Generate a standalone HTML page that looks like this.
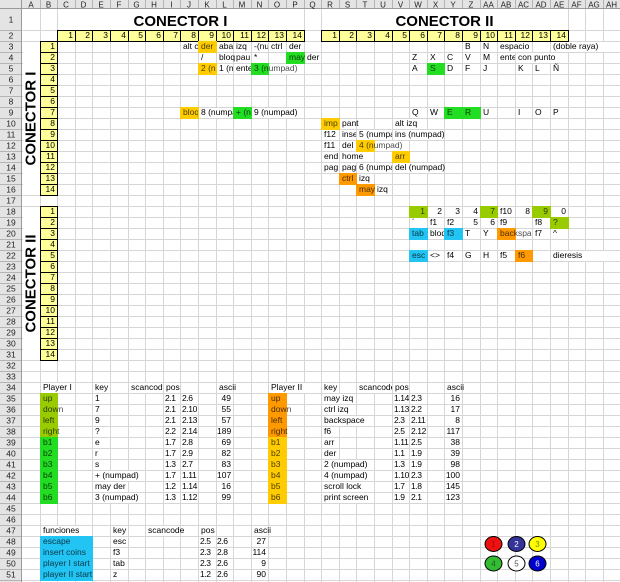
<!DOCTYPE html>
<html><head><meta charset="utf-8"><style>
*{margin:0;padding:0}
body{background:#fff;width:620px;height:582px;overflow:hidden}
#w{position:relative;width:620px;height:582px;overflow:hidden;font-family:"Liberation Sans",Arial,sans-serif;font-size:8.5px;color:#000}
.t{position:absolute;height:10px;line-height:9px;white-space:nowrap;padding-left:2px;box-sizing:border-box}
.p{padding-left:1px;letter-spacing:-.4px}
.k{overflow:hidden}
.w{background:#fff}
.r{text-align:right;padding:0 2px 0 0}
.f{position:absolute;height:12px}
.y{position:absolute;height:12px;background:#ffff99;border:1px solid #000;box-sizing:border-box;text-align:right;padding-right:2px;line-height:9px;white-space:nowrap}
.g{background:#ffcc00}.o{background:#ff9900}.n{background:#22dd22}.l{background:#99cc00}.b{background:#22c4f4}
.d{color:rgba(0,0,0,.72)}
.ttl{position:absolute;text-align:center;font-weight:bold;font-size:15px;line-height:15px;white-space:nowrap}
</style></head><body><div id="w">
<svg width="620" height="582" style="position:absolute;left:0;top:0" font-family="Liberation Sans, Arial, sans-serif">
<defs>
<pattern id="hp" x="0" y="30" width="620" height="11" patternUnits="userSpaceOnUse"><rect width="620" height="1" fill="#d6d6d6"/></pattern>
<pattern id="hh" x="0" y="30" width="22" height="11" patternUnits="userSpaceOnUse"><rect width="22" height="1" fill="#b4b4b4"/></pattern>
</defs>
<rect x="0" y="0" width="620" height="9" fill="#e4e4e4"/>
<rect x="0" y="0" width="22" height="582" fill="#e4e4e4"/>
<rect x="22" y="30" width="598" height="552" fill="url(#hp)"/>
<rect x="0" y="30" width="21" height="552" fill="url(#hh)"/>
<path d="M40.5 9V582M57.5 9V582M75.5 9V582M92.5 9V582M110.5 9V582M128.5 9V582M145.5 9V582M163.5 9V582M180.5 9V582M198.5 9V582M216.5 9V582M233.5 9V582M251.5 9V582M268.5 9V582M286.5 9V582M304.5 9V582M321.5 9V582M339.5 9V582M356.5 9V582M374.5 9V582M392.5 9V582M409.5 9V582M427.5 9V582M444.5 9V582M462.5 9V582M480.5 9V582M497.5 9V582M515.5 9V582M532.5 9V582M550.5 9V582M568.5 9V582M585.5 9V582M603.5 9V582" stroke="#d6d6d6" stroke-width="1"/>
<path d="M40.5 0V9M57.5 0V9M75.5 0V9M92.5 0V9M110.5 0V9M128.5 0V9M145.5 0V9M163.5 0V9M180.5 0V9M198.5 0V9M216.5 0V9M233.5 0V9M251.5 0V9M268.5 0V9M286.5 0V9M304.5 0V9M321.5 0V9M339.5 0V9M356.5 0V9M374.5 0V9M392.5 0V9M409.5 0V9M427.5 0V9M444.5 0V9M462.5 0V9M480.5 0V9M497.5 0V9M515.5 0V9M532.5 0V9M550.5 0V9M568.5 0V9M585.5 0V9M603.5 0V9" stroke="#b4b4b4" stroke-width="1"/>
<path d="M0 8.5H620M21.5 0V582" stroke="#9a9a9a" stroke-width="1"/>
<rect x="58" y="9" width="245" height="21" fill="#fff"/>
<rect x="322" y="9" width="245" height="21" fill="#fff"/>
<rect x="23" y="42" width="17" height="153" fill="#fff"/>
<rect x="23" y="207" width="17" height="153" fill="#fff"/>
<g font-size="8" fill="#222" text-anchor="middle">
<text x="31" y="7.5">A</text><text x="48.5" y="7.5">B</text><text x="66" y="7.5">C</text><text x="83.5" y="7.5">D</text><text x="101" y="7.5">E</text><text x="119" y="7.5">F</text><text x="136.5" y="7.5">G</text><text x="154" y="7.5">H</text><text x="171.5" y="7.5">I</text><text x="189" y="7.5">J</text><text x="207" y="7.5">K</text><text x="224.5" y="7.5">L</text><text x="242" y="7.5">M</text><text x="259.5" y="7.5">N</text><text x="277" y="7.5">O</text><text x="295" y="7.5">P</text><text x="312.5" y="7.5">Q</text><text x="330" y="7.5">R</text><text x="347.5" y="7.5">S</text><text x="365" y="7.5">T</text><text x="383" y="7.5">U</text><text x="400.5" y="7.5">V</text><text x="418" y="7.5">W</text><text x="435.5" y="7.5">X</text><text x="453" y="7.5">Y</text><text x="471" y="7.5">Z</text><text x="488.5" y="7.5">AA</text><text x="506" y="7.5">AB</text><text x="523.5" y="7.5">AC</text><text x="541" y="7.5">AD</text><text x="559" y="7.5">AE</text><text x="576.5" y="7.5">AF</text><text x="594" y="7.5">AG</text><text x="611.5" y="7.5">AH</text>
</g>
<g font-size="8.5" fill="#222" text-anchor="middle">
<text x="11" y="22.5">1</text><text x="11" y="38.5">2</text><text x="11" y="49.5">3</text><text x="11" y="60.5">4</text><text x="11" y="71.5">5</text><text x="11" y="82.5">6</text><text x="11" y="93.5">7</text><text x="11" y="104.5">8</text><text x="11" y="115.5">9</text><text x="11" y="126.5">10</text><text x="11" y="137.5">11</text><text x="11" y="148.5">12</text><text x="11" y="159.5">13</text><text x="11" y="170.5">14</text><text x="11" y="181.5">15</text><text x="11" y="192.5">16</text><text x="11" y="203.5">17</text><text x="11" y="214.5">18</text><text x="11" y="225.5">19</text><text x="11" y="236.5">20</text><text x="11" y="247.5">21</text><text x="11" y="258.5">22</text><text x="11" y="269.5">23</text><text x="11" y="280.5">24</text><text x="11" y="291.5">25</text><text x="11" y="302.5">26</text><text x="11" y="313.5">27</text><text x="11" y="324.5">28</text><text x="11" y="335.5">29</text><text x="11" y="346.5">30</text><text x="11" y="357.5">31</text><text x="11" y="368.5">32</text><text x="11" y="379.5">33</text><text x="11" y="390.5">34</text><text x="11" y="401.5">35</text><text x="11" y="412.5">36</text><text x="11" y="423.5">37</text><text x="11" y="434.5">38</text><text x="11" y="445.5">39</text><text x="11" y="456.5">40</text><text x="11" y="467.5">41</text><text x="11" y="478.5">42</text><text x="11" y="489.5">43</text><text x="11" y="500.5">44</text><text x="11" y="511.5">45</text><text x="11" y="522.5">46</text><text x="11" y="533.5">47</text><text x="11" y="544.5">48</text><text x="11" y="555.5">49</text><text x="11" y="566.5">50</text><text x="11" y="577.5">51</text>
</g>
<g stroke="#000" stroke-width="1">
<ellipse cx="493.5" cy="544" rx="8.5" ry="7.5" fill="#ee1111"/>
<ellipse cx="516.5" cy="544" rx="8.5" ry="7.5" fill="#333399"/>
<ellipse cx="537.5" cy="544" rx="8.5" ry="7.5" fill="#ffff00"/>
<ellipse cx="493.5" cy="563.5" rx="8.5" ry="7.5" fill="#33bb33"/>
<ellipse cx="516.5" cy="563.5" rx="8.5" ry="7.5" fill="#ffffff"/>
<ellipse cx="537.5" cy="563.5" rx="8.5" ry="7.5" fill="#0000cc"/>
</g>
<g font-size="8" text-anchor="middle">
<text x="493.5" y="547" fill="#b00000">1</text>
<text x="516.5" y="547" fill="#ffffff">2</text>
<text x="537.5" y="547" fill="#888800">3</text>
<text x="493.5" y="566.5" fill="#1a661a">4</text>
<text x="516.5" y="566.5" fill="#555555">5</text>
<text x="537.5" y="566.5" fill="#ffffff">6</text>
</g>
</svg>

<div class="ttl" style="left:57px;top:14px;width:247px">CONECTOR I</div>
<div class="ttl" style="left:321px;top:14px;width:247px">CONECTOR II</div>
<div class="ttl" style="left:-69.5px;top:110.5px;width:200px;height:15px;transform:rotate(-90deg)">CONECTOR I</div>
<div class="ttl" style="left:-69.5px;top:275.5px;width:200px;height:15px;transform:rotate(-90deg)">CONECTOR II</div>

<div class="y" style="left:57px;top:30px;width:19px">1</div>
<div class="y" style="left:75px;top:30px;width:18px">2</div>
<div class="y" style="left:92px;top:30px;width:19px">3</div>
<div class="y" style="left:110px;top:30px;width:19px">4</div>
<div class="y" style="left:128px;top:30px;width:18px">5</div>
<div class="y" style="left:145px;top:30px;width:19px">6</div>
<div class="y" style="left:163px;top:30px;width:18px">7</div>
<div class="y" style="left:180px;top:30px;width:19px">8</div>
<div class="y" style="left:198px;top:30px;width:19px">9</div>
<div class="y" style="left:216px;top:30px;width:18px">10</div>
<div class="y" style="left:233px;top:30px;width:19px">11</div>
<div class="y" style="left:251px;top:30px;width:18px">12</div>
<div class="y" style="left:268px;top:30px;width:19px">13</div>
<div class="y" style="left:286px;top:30px;width:19px">14</div>
<div class="y" style="left:321px;top:30px;width:19px">1</div>
<div class="y" style="left:339px;top:30px;width:18px">2</div>
<div class="y" style="left:356px;top:30px;width:19px">3</div>
<div class="y" style="left:374px;top:30px;width:19px">4</div>
<div class="y" style="left:392px;top:30px;width:18px">5</div>
<div class="y" style="left:409px;top:30px;width:19px">6</div>
<div class="y" style="left:427px;top:30px;width:18px">7</div>
<div class="y" style="left:444px;top:30px;width:19px">8</div>
<div class="y" style="left:462px;top:30px;width:19px">9</div>
<div class="y" style="left:480px;top:30px;width:18px">10</div>
<div class="y" style="left:497px;top:30px;width:19px">11</div>
<div class="y" style="left:515px;top:30px;width:18px">12</div>
<div class="y" style="left:532px;top:30px;width:19px">13</div>
<div class="y" style="left:550px;top:30px;width:19px">14</div>

<div class="y" style="left:40px;top:41px;width:18px">1</div>
<div class="y" style="left:40px;top:52px;width:18px">2</div>
<div class="y" style="left:40px;top:63px;width:18px">3</div>
<div class="y" style="left:40px;top:74px;width:18px">4</div>
<div class="y" style="left:40px;top:85px;width:18px">5</div>
<div class="y" style="left:40px;top:96px;width:18px">6</div>
<div class="y" style="left:40px;top:107px;width:18px">7</div>
<div class="y" style="left:40px;top:118px;width:18px">8</div>
<div class="y" style="left:40px;top:129px;width:18px">9</div>
<div class="y" style="left:40px;top:140px;width:18px">10</div>
<div class="y" style="left:40px;top:151px;width:18px">11</div>
<div class="y" style="left:40px;top:162px;width:18px">12</div>
<div class="y" style="left:40px;top:173px;width:18px">13</div>
<div class="y" style="left:40px;top:184px;width:18px">14</div>
<div class="y" style="left:40px;top:206px;width:18px">1</div>
<div class="y" style="left:40px;top:217px;width:18px">2</div>
<div class="y" style="left:40px;top:228px;width:18px">3</div>
<div class="y" style="left:40px;top:239px;width:18px">4</div>
<div class="y" style="left:40px;top:250px;width:18px">5</div>
<div class="y" style="left:40px;top:261px;width:18px">6</div>
<div class="y" style="left:40px;top:272px;width:18px">7</div>
<div class="y" style="left:40px;top:283px;width:18px">8</div>
<div class="y" style="left:40px;top:294px;width:18px">9</div>
<div class="y" style="left:40px;top:305px;width:18px">10</div>
<div class="y" style="left:40px;top:316px;width:18px">11</div>
<div class="y" style="left:40px;top:327px;width:18px">12</div>
<div class="y" style="left:40px;top:338px;width:18px">13</div>
<div class="y" style="left:40px;top:349px;width:18px">14</div>

<div class="f g" style="left:198px;top:41px;width:19px"></div>
<div class="f n" style="left:286px;top:52px;width:19px"></div>
<div class="f g" style="left:198px;top:63px;width:19px"></div>
<div class="f n" style="left:251px;top:63px;width:18px"></div>
<div class="t w" style="left:269px;top:64px;width:35px"></div>
<div class="f g" style="left:180px;top:107px;width:19px"></div>
<div class="f n" style="left:233px;top:107px;width:19px"></div>
<div class="f g" style="left:321px;top:118px;width:19px"></div>
<div class="f g" style="left:356px;top:140px;width:19px"></div>
<div class="t w" style="left:375px;top:141px;width:33px"></div>
<div class="f g" style="left:392px;top:151px;width:18px"></div>
<div class="f o" style="left:339px;top:173px;width:18px"></div>
<div class="f o" style="left:356px;top:184px;width:19px"></div>
<div class="f n" style="left:427px;top:63px;width:18px"></div>
<div class="f n" style="left:444px;top:107px;width:37px"></div>
<div class="f l" style="left:409px;top:206px;width:19px"></div>
<div class="f l" style="left:480px;top:206px;width:18px"></div>
<div class="f l" style="left:532px;top:206px;width:19px"></div>
<div class="f l" style="left:550px;top:217px;width:19px"></div>
<div class="f b" style="left:409px;top:228px;width:19px"></div>
<div class="f b" style="left:444px;top:228px;width:19px"></div>
<div class="f o" style="left:497px;top:228px;width:19px"></div>
<div class="f b" style="left:409px;top:250px;width:19px"></div>
<div class="f o" style="left:515px;top:250px;width:18px"></div>

<div class="t k" style="left:181px;top:42px;width:17px">alt c</div>
<div class="t d" style="left:199px;top:42px">der</div>
<div class="t" style="left:217px;top:42px">aba</div>
<div class="t" style="left:234px;top:42px">izq</div>
<div class="t k" style="left:252px;top:42px;width:16px">-(num</div>
<div class="t" style="left:269px;top:42px">ctrl</div>
<div class="t" style="left:287px;top:42px">der</div>

<div class="t" style="left:199px;top:53px">/</div>
<div class="t" style="left:217px;top:53px">bloq</div>
<div class="t" style="left:234px;top:53px">pau</div>
<div class="t" style="left:252px;top:53px">*</div>
<div class="t d" style="left:287px;top:53px">may</div>
<div class="t" style="left:305px;top:53px">der</div>

<div class="t k d" style="left:199px;top:64px;width:17px">2 (numpad)</div>
<div class="t k" style="left:217px;top:64px;width:16px">1 (numpad)</div>
<div class="t k" style="left:234px;top:64px;width:17px">enter</div>
<div class="t d" style="left:252px;top:64px">3 (numpad)</div>

<div class="t k d" style="left:181px;top:108px;width:17px">bloq num</div>
<div class="t k w" style="left:199px;top:108px;width:34px">8 (numpad)</div>
<div class="t k d" style="left:234px;top:108px;width:17px">+ (numpad)</div>
<div class="t w" style="left:252px;top:108px;width:52px">9 (numpad)</div>

<div class="t d" style="left:322px;top:119px">imp</div>
<div class="t" style="left:340px;top:119px">pant</div>
<div class="t w" style="left:393px;top:119px;width:34px">alt izq</div>

<div class="t" style="left:322px;top:130px">f12</div>
<div class="t k" style="left:340px;top:130px;width:16px">insert</div>
<div class="t k w" style="left:357px;top:130px;width:35px">5 (numpad)</div>
<div class="t w" style="left:393px;top:130px;width:51px">ins (numpad)</div>

<div class="t" style="left:322px;top:141px">f11</div>
<div class="t" style="left:340px;top:141px">del</div>
<div class="t d" style="left:357px;top:141px">4 (numpad)</div>

<div class="t" style="left:322px;top:152px">end</div>
<div class="t w" style="left:340px;top:152px;width:34px">home</div>
<div class="t d" style="left:393px;top:152px">arr</div>

<div class="t" style="left:322px;top:163px">pag</div>
<div class="t k" style="left:340px;top:163px;width:16px">pag ab</div>
<div class="t k w" style="left:357px;top:163px;width:35px">6 (numpad)</div>
<div class="t w" style="left:393px;top:163px;width:51px">del (numpad)</div>

<div class="t d" style="left:340px;top:174px">ctrl</div>
<div class="t" style="left:357px;top:174px">izq</div>
<div class="t d" style="left:357px;top:185px">may</div>
<div class="t" style="left:375px;top:185px">izq</div>

<div class="t" style="left:463px;top:42px">B</div>
<div class="t" style="left:481px;top:42px">N</div>
<div class="t w" style="left:498px;top:42px;width:34px">espacio</div>
<div class="t w" style="left:551px;top:42px;width:69px">(doble raya)</div>

<div class="t" style="left:410px;top:53px">Z</div>
<div class="t" style="left:428px;top:53px">X</div>
<div class="t" style="left:445px;top:53px">C</div>
<div class="t" style="left:463px;top:53px">V</div>
<div class="t" style="left:481px;top:53px">M</div>
<div class="t k" style="left:498px;top:53px;width:17px">enter</div>
<div class="t w" style="left:516px;top:53px;width:52px">con punto</div>

<div class="t" style="left:410px;top:64px">A</div>
<div class="t d" style="left:428px;top:64px">S</div>
<div class="t" style="left:445px;top:64px">D</div>
<div class="t" style="left:463px;top:64px">F</div>
<div class="t" style="left:481px;top:64px">J</div>
<div class="t" style="left:516px;top:64px">K</div>
<div class="t" style="left:533px;top:64px">L</div>
<div class="t" style="left:551px;top:64px">Ñ</div>

<div class="t" style="left:410px;top:108px">Q</div>
<div class="t" style="left:428px;top:108px">W</div>
<div class="t d" style="left:445px;top:108px">E</div>
<div class="t d" style="left:463px;top:108px">R</div>
<div class="t" style="left:481px;top:108px">U</div>
<div class="t" style="left:516px;top:108px">I</div>
<div class="t" style="left:533px;top:108px">O</div>
<div class="t" style="left:551px;top:108px">P</div>

<div class="t r d" style="left:410px;top:207px;width:17px">1</div>
<div class="t r" style="left:428px;top:207px;width:16px">2</div>
<div class="t r" style="left:445px;top:207px;width:17px">3</div>
<div class="t r" style="left:463px;top:207px;width:17px">4</div>
<div class="t r d" style="left:481px;top:207px;width:16px">7</div>
<div class="t" style="left:498px;top:207px">f10</div>
<div class="t r" style="left:516px;top:207px;width:16px">8</div>
<div class="t r d" style="left:533px;top:207px;width:17px">9</div>
<div class="t r" style="left:551px;top:207px;width:17px">0</div>

<div class="t" style="left:410px;top:218px">´</div>
<div class="t" style="left:428px;top:218px">f1</div>
<div class="t" style="left:445px;top:218px">f2</div>
<div class="t r" style="left:463px;top:218px;width:17px">5</div>
<div class="t r" style="left:481px;top:218px;width:16px">6</div>
<div class="t" style="left:498px;top:218px">f9</div>
<div class="t" style="left:533px;top:218px">f8</div>
<div class="t d" style="left:551px;top:218px">?</div>

<div class="t d" style="left:410px;top:229px">tab</div>
<div class="t k" style="left:428px;top:229px;width:16px">bloq</div>
<div class="t d" style="left:445px;top:229px">f3</div>
<div class="t" style="left:463px;top:229px">T</div>
<div class="t" style="left:481px;top:229px">Y</div>
<div class="t k d" style="left:498px;top:229px;width:34px">backspace</div>
<div class="t" style="left:533px;top:229px">f7</div>
<div class="t" style="left:551px;top:229px">^</div>

<div class="t d" style="left:410px;top:251px">esc</div>
<div class="t" style="left:428px;top:251px">&lt;&gt;</div>
<div class="t" style="left:445px;top:251px">f4</div>
<div class="t" style="left:463px;top:251px">G</div>
<div class="t" style="left:481px;top:251px">H</div>
<div class="t" style="left:498px;top:251px">f5</div>
<div class="t d" style="left:516px;top:251px">f6</div>
<div class="t w" style="left:551px;top:251px;width:69px">dieresis</div>

<div class="t w" style="left:41px;top:383px;width:34px">Player I</div>
<div class="t" style="left:93px;top:383px">key</div>
<div class="t k w" style="left:129px;top:383px;width:34px">scancode</div>
<div class="t" style="left:164px;top:383px">pos</div>
<div class="t" style="left:217px;top:383px">ascii</div>

<div class="f l" style="left:40px;top:393px;width:18px;height:45px"></div>
<div class="f n" style="left:40px;top:437px;width:18px;height:67px"></div>

<div class="t d" style="left:41px;top:394px">up</div>
<div class="t d" style="left:41px;top:405px">down</div>
<div class="t d" style="left:41px;top:416px">left</div>
<div class="t d" style="left:41px;top:427px">right</div>
<div class="t d" style="left:41px;top:438px">b1</div>
<div class="t d" style="left:41px;top:449px">b2</div>
<div class="t d" style="left:41px;top:460px">b3</div>
<div class="t d" style="left:41px;top:471px">b4</div>
<div class="t d" style="left:41px;top:482px">b5</div>
<div class="t d" style="left:41px;top:493px">b6</div>

<div class="t" style="left:93px;top:394px">1</div>
<div class="t" style="left:93px;top:405px">7</div>
<div class="t" style="left:93px;top:416px">9</div>
<div class="t" style="left:93px;top:427px">?</div>
<div class="t" style="left:93px;top:438px">e</div>
<div class="t" style="left:93px;top:449px">r</div>
<div class="t" style="left:93px;top:460px">s</div>
<div class="t w" style="left:93px;top:471px;width:52px">+ (numpad)</div>
<div class="t w" style="left:93px;top:482px;width:35px">may der</div>
<div class="t w" style="left:93px;top:493px;width:52px">3 (numpad)</div>

<div class="t p" style="left:164px;top:394px">2.1</div><div class="t p" style="left:181px;top:394px">2.6</div>
<div class="t p" style="left:164px;top:405px">2.1</div><div class="t p" style="left:181px;top:405px">2.10</div>
<div class="t p" style="left:164px;top:416px">2.1</div><div class="t p" style="left:181px;top:416px">2.13</div>
<div class="t p" style="left:164px;top:427px">2.2</div><div class="t p" style="left:181px;top:427px">2.14</div>
<div class="t p" style="left:164px;top:438px">1.7</div><div class="t p" style="left:181px;top:438px">2.8</div>
<div class="t p" style="left:164px;top:449px">1.7</div><div class="t p" style="left:181px;top:449px">2.9</div>
<div class="t p" style="left:164px;top:460px">1.3</div><div class="t p" style="left:181px;top:460px">2.7</div>
<div class="t p" style="left:164px;top:471px">1.7</div><div class="t p" style="left:181px;top:471px">1.11</div>
<div class="t p" style="left:164px;top:482px">1.2</div><div class="t p" style="left:181px;top:482px">1.14</div>
<div class="t p" style="left:164px;top:493px">1.3</div><div class="t p" style="left:181px;top:493px">1.12</div>

<div class="t r" style="left:217px;top:394px;width:16px">49</div>
<div class="t r" style="left:217px;top:405px;width:16px">55</div>
<div class="t r" style="left:217px;top:416px;width:16px">57</div>
<div class="t r" style="left:217px;top:427px;width:16px">189</div>
<div class="t r" style="left:217px;top:438px;width:16px">69</div>
<div class="t r" style="left:217px;top:449px;width:16px">82</div>
<div class="t r" style="left:217px;top:460px;width:16px">83</div>
<div class="t r" style="left:217px;top:471px;width:16px">107</div>
<div class="t r" style="left:217px;top:482px;width:16px">16</div>
<div class="t r" style="left:217px;top:493px;width:16px">99</div>

<div class="t w" style="left:269px;top:383px;width:52px">Player II</div>
<div class="t" style="left:322px;top:383px">key</div>
<div class="t k w" style="left:357px;top:383px;width:35px">scancode</div>
<div class="t" style="left:393px;top:383px">pos</div>
<div class="t" style="left:445px;top:383px">ascii</div>

<div class="f o" style="left:268px;top:393px;width:19px;height:45px"></div>
<div class="f g" style="left:268px;top:437px;width:19px;height:67px"></div>

<div class="t d" style="left:269px;top:394px">up</div>
<div class="t d" style="left:269px;top:405px">down</div>
<div class="t d" style="left:269px;top:416px">left</div>
<div class="t d" style="left:269px;top:427px">right</div>
<div class="t d" style="left:269px;top:438px">b1</div>
<div class="t d" style="left:269px;top:449px">b2</div>
<div class="t d" style="left:269px;top:460px">b3</div>
<div class="t d" style="left:269px;top:471px">b4</div>
<div class="t d" style="left:269px;top:482px">b5</div>
<div class="t d" style="left:269px;top:493px">b6</div>

<div class="t w" style="left:322px;top:394px;width:34px">may izq</div>
<div class="t w" style="left:322px;top:405px;width:34px">ctrl izq</div>
<div class="t w" style="left:322px;top:416px;width:52px">backspace</div>
<div class="t" style="left:322px;top:427px">f6</div>
<div class="t" style="left:322px;top:438px">arr</div>
<div class="t" style="left:322px;top:449px">der</div>
<div class="t w" style="left:322px;top:460px;width:52px">2 (numpad)</div>
<div class="t w" style="left:322px;top:471px;width:52px">4 (numpad)</div>
<div class="t w" style="left:322px;top:482px;width:52px">scroll lock</div>
<div class="t w" style="left:322px;top:493px;width:52px">print screen</div>

<div class="t p" style="left:393px;top:394px">1.14</div><div class="t p" style="left:410px;top:394px">2.3</div>
<div class="t p" style="left:393px;top:405px">1.13</div><div class="t p" style="left:410px;top:405px">2.2</div>
<div class="t p" style="left:393px;top:416px">2.3</div><div class="t p" style="left:410px;top:416px">2.11</div>
<div class="t p" style="left:393px;top:427px">2.5</div><div class="t p" style="left:410px;top:427px">2.12</div>
<div class="t p" style="left:393px;top:438px">1.11</div><div class="t p" style="left:410px;top:438px">2.5</div>
<div class="t p" style="left:393px;top:449px">1.1</div><div class="t p" style="left:410px;top:449px">1.9</div>
<div class="t p" style="left:393px;top:460px">1.3</div><div class="t p" style="left:410px;top:460px">1.9</div>
<div class="t p" style="left:393px;top:471px">1.10</div><div class="t p" style="left:410px;top:471px">2.3</div>
<div class="t p" style="left:393px;top:482px">1.7</div><div class="t p" style="left:410px;top:482px">1.8</div>
<div class="t p" style="left:393px;top:493px">1.9</div><div class="t p" style="left:410px;top:493px">2.1</div>

<div class="t r" style="left:445px;top:394px;width:17px">16</div>
<div class="t r" style="left:445px;top:405px;width:17px">17</div>
<div class="t r" style="left:445px;top:416px;width:17px">8</div>
<div class="t r" style="left:445px;top:427px;width:17px">117</div>
<div class="t r" style="left:445px;top:438px;width:17px">38</div>
<div class="t r" style="left:445px;top:449px;width:17px">39</div>
<div class="t r" style="left:445px;top:460px;width:17px">98</div>
<div class="t r" style="left:445px;top:471px;width:17px">100</div>
<div class="t r" style="left:445px;top:482px;width:17px">145</div>
<div class="t r" style="left:445px;top:493px;width:17px">123</div>

<div class="t w" style="left:41px;top:526px;width:51px">funciones</div>
<div class="t" style="left:111px;top:526px">key</div>
<div class="t w" style="left:146px;top:526px;width:34px">scancode</div>
<div class="t" style="left:199px;top:526px">pos</div>
<div class="t" style="left:252px;top:526px">ascii</div>

<div class="f b" style="left:40px;top:536px;width:53px;height:45px"></div>
<div class="t d" style="left:41px;top:537px">escape</div>
<div class="t d" style="left:41px;top:548px">insert coins</div>
<div class="t d" style="left:41px;top:559px">player I start</div>
<div class="t d" style="left:41px;top:570px">player II start</div>

<div class="t" style="left:111px;top:537px">esc</div>
<div class="t" style="left:111px;top:548px">f3</div>
<div class="t" style="left:111px;top:559px">tab</div>
<div class="t" style="left:111px;top:570px">z</div>

<div class="t p" style="left:199px;top:537px">2.5</div><div class="t p" style="left:216px;top:537px">2.6</div>
<div class="t p" style="left:199px;top:548px">2.3</div><div class="t p" style="left:216px;top:548px">2.8</div>
<div class="t p" style="left:199px;top:559px">2.3</div><div class="t p" style="left:216px;top:559px">2.6</div>
<div class="t p" style="left:199px;top:570px">1.2</div><div class="t p" style="left:216px;top:570px">2.6</div>

<div class="t r" style="left:252px;top:537px;width:16px">27</div>
<div class="t r" style="left:252px;top:548px;width:16px">114</div>
<div class="t r" style="left:252px;top:559px;width:16px">9</div>
<div class="t r" style="left:252px;top:570px;width:16px">90</div>
</div></body></html>
